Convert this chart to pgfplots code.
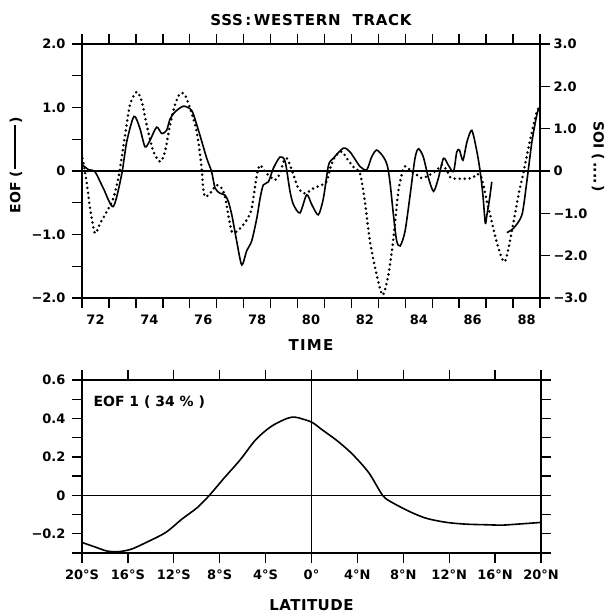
\documentclass[border=0pt]{standalone}
\usepackage{fontspec}
\setmainfont{DejaVu Sans}
\usepackage{pgfplots}
\pgfplotsset{compat=1.18}

\pgfplotsset{
  panel/.style={
    scale only axis,
    tick align=outside,
    axis line style={line width=1.5pt},
    every tick/.style={line width=1.4pt, black},
    major tick length=10pt,
    minor tick length=10pt,
    tick label style={font=\fontsize{13}{15}\selectfont\bfseries},
    xticklabel style={yshift=-3pt},
    yticklabel style={xshift=-3pt},
    /pgf/number format/assume math mode=true,
  },
  eofline/.style={black, line width=1.6pt, smooth, tension=0.45},
  soiline/.style={black, line width=2.8pt, line cap=round,
    dash pattern=on 0pt off 5pt, smooth, tension=0.45},
}

\begin{document}
\begin{tikzpicture}
\useasboundingbox (-82pt,-60pt) rectangle (530pt,553pt);

% ---- top panel, EOF (left axis)
\begin{axis}[panel, at={(0pt,255pt)}, width=458pt, height=254pt,
  xmin=72, xmax=89, ymin=-2, ymax=2,
  xtick={72,74,...,88}, minor xtick={73,75,...,89},
  xticklabels={72,74,76,78,80,82,84,86,88},
  xticklabel style={xshift=13.5pt},
  ytick={-2,-1.5,-1,-0.5,0,0.5,1,1.5,2},
  yticklabels={−2.0,,−1.0,,0,,1.0,,2.0},
  ytick pos=left,
  title={SSS\,:\,WESTERN\ \ TRACK},
  title style={font=\fontsize{15}{17}\selectfont\bfseries\addfontfeatures{LetterSpace=5}, yshift=9pt},
  xlabel={TIME},
  xlabel style={at={(axis description cs:0.5,0)}, anchor=center, yshift=-47pt,
    font=\fontsize{15}{17}\selectfont\bfseries\addfontfeatures{LetterSpace=8}},
]
\addplot[black, line width=1.1pt] coordinates {(72,0) (89,0)};
\addplot[eofline] coordinates {
(72.0,0.10) (72.25,0.02) (72.48,-0.01) (72.79,-0.27) (73.16,-0.56)
(73.47,-0.06) (73.66,0.46) (73.93,0.86) (74.15,0.67) (74.34,0.38)
(74.52,0.48) (74.77,0.69) (74.96,0.59) (75.14,0.64) (75.27,0.82)
(75.45,0.93) (75.76,1.02) (76.01,0.98) (76.13,0.90) (76.38,0.56)
(76.63,0.20) (76.81,-0.01) (76.94,-0.27) (77.12,-0.35) (77.31,-0.38)
(77.43,-0.48) (77.56,-0.69) (77.74,-1.10) (77.93,-1.48) (78.11,-1.26)
(78.30,-1.10) (78.49,-0.74) (78.61,-0.43) (78.73,-0.22) (78.92,-0.17)
(79.10,0.04) (79.35,0.22) (79.54,0.15) (79.72,-0.32) (79.85,-0.53)
(80.09,-0.66) (80.34,-0.375) (80.53,-0.53) (80.77,-0.69) (80.96,-0.43)
(81.15,0.09) (81.33,0.20) (81.70,0.36) (81.95,0.30) (82.32,0.07)
(82.57,0.02) (82.75,0.22) (82.94,0.33) (83.19,0.22) (83.33,0.09)
(83.43,-0.17) (83.56,-0.69) (83.68,-1.10) (83.81,-1.18) (83.99,-0.95)
(84.18,-0.375) (84.36,0.20) (84.49,0.35) (84.67,0.22) (84.86,-0.11)
(85.05,-0.32) (85.23,-0.11) (85.42,0.20) (85.60,0.09) (85.79,-0.01)
(85.91,0.30) (86.01,0.33) (86.14,0.17) (86.29,0.46) (86.47,0.64)
(86.66,0.30) (86.78,-0.01) (86.88,-0.375) (86.97,-0.82) (87.03,-0.69)
(87.13,-0.43) (87.21,-0.17)
};
\addplot[eofline] coordinates {
(87.77,-0.97) (88.02,-0.90) (88.33,-0.69) (88.51,-0.17) (88.70,0.46)
(88.89,0.90) (88.99,1.00)
};
\end{axis}

% ---- top panel, SOI (right axis)
\begin{axis}[panel, at={(0pt,255pt)}, width=458pt, height=254pt,
  xmin=72, xmax=89, ymin=-3, ymax=3,
  axis x line=none, axis y line*=right,
  ytick={-3,-2,-1,0,1,2,3},
  yticklabels={−3.0,−2.0,−1.0,0,1.0,2.0,3.0},
  yticklabel style={xshift=3pt},
]
\addplot[soiline] coordinates {
(72.02,0.30) (72.17,-0.25) (72.30,-0.88) (72.48,-1.47) (72.67,-1.24)
(72.92,-0.96) (73.16,-0.65) (73.35,-0.17) (73.47,0.30) (73.60,0.85)
(73.78,1.56) (74.03,1.87) (74.22,1.64) (74.40,1.09) (74.65,0.46)
(74.90,0.22) (75.08,0.46) (75.27,1.09) (75.45,1.56) (75.64,1.83)
(75.82,1.80) (76.01,1.48) (76.20,1.09) (76.32,0.69) (76.44,0.06)
(76.50,-0.41) (76.57,-0.61) (76.75,-0.53) (77.00,-0.33) (77.19,-0.41)
(77.31,-0.61) (77.43,-1.04) (77.56,-1.43) (77.74,-1.43) (77.93,-1.31)
(78.11,-1.16) (78.30,-0.88) (78.49,-0.09) (78.61,0.14) (78.79,-0.02)
(78.98,-0.13) (79.17,-0.21) (79.35,-0.06) (79.48,0.22) (79.60,0.30)
(79.72,0.14) (79.85,-0.09) (80.03,-0.41) (80.28,-0.53) (80.59,-0.41)
(80.90,-0.33) (81.08,-0.25) (81.21,0.06) (81.39,0.34) (81.64,0.46)
(81.83,0.30) (82.07,0.10) (82.32,-0.06) (82.50,-0.72) (82.69,-1.67)
(82.94,-2.46) (83.16,-2.93) (83.37,-2.46) (83.56,-1.59) (83.74,-0.49)
(83.93,0.06) (84.05,0.10) (84.24,-0.02) (84.42,-0.09) (84.61,-0.17)
(84.79,-0.13) (84.98,-0.06) (85.17,0.02) (85.35,0.14) (85.54,0.02)
(85.72,-0.17) (86.47,-0.17) (86.59,-0.09) (86.78,-0.09) (86.90,-0.33)
(87.03,-0.72) (87.21,-1.20) (87.39,-1.67) (87.58,-2.06) (87.70,-2.14)
(87.83,-1.83) (88.02,-1.20) (88.20,-0.57) (88.39,-0.02) (88.57,0.54)
(88.76,1.09) (88.90,1.44) (89.00,1.52)
};
\end{axis}

% ---- bottom panel
\begin{axis}[panel, at={(0pt,0pt)}, width=459pt, height=173pt,
  xmin=-20, xmax=20, ymin=-0.3, ymax=0.6,
  xtick={-20,-16,...,20},
  xticklabels={20°S,16°S,12°S,8°S,4°S,0°,4°N,8°N,12°N,16°N,20°N},
  ytick={-0.3,-0.2,-0.1,0,0.1,0.2,0.3,0.4,0.5,0.6},
  yticklabels={,−0.2,,0,,0.2,,0.4,,0.6},
  xlabel={LATITUDE},
  xlabel style={at={(axis description cs:0.5,0)}, anchor=center, yshift=-52pt,
    font=\fontsize{15}{17}\selectfont\bfseries\addfontfeatures{LetterSpace=3}},
]
\addplot[black, line width=1.1pt] coordinates {(-20,0) (20,0)};
\addplot[black, line width=1.1pt] coordinates {(0,-0.3) (0,0.6)};
\addplot[black, line width=1.6pt, smooth, tension=0.5] coordinates {
(-20,-0.245) (-18.8,-0.27) (-17.8,-0.29) (-16.8,-0.293) (-15.7,-0.28)
(-14.4,-0.245) (-12.7,-0.193) (-11.3,-0.124) (-9.96,-0.064) (-8.9,0)
(-7.6,0.091) (-6.2,0.186) (-4.85,0.29) (-3.5,0.359) (-2.14,0.40)
(-1.46,0.407) (-0.77,0.397) (0.07,0.379) (0.93,0.341) (2.3,0.281)
(3.6,0.212) (5.0,0.117) (6.2,0) (7.05,-0.038) (8.75,-0.09)
(10.1,-0.121) (11.8,-0.141) (13.5,-0.15) (15.2,-0.153) (16.6,-0.155)
(17.9,-0.15) (20.0,-0.141)
};
\node[anchor=west, font=\fontsize{14}{16}\selectfont\bfseries] at (axis cs:-19.3,0.485) {EOF 1 ( 34 \% )};
\end{axis}

% side labels
\node[rotate=90, font=\fontsize{14}{16}\selectfont\bfseries] at (-66pt,388pt)
  {EOF (\,\rule[0.32em]{3.1em}{1.5pt}\,)};
\node[rotate=-90, font=\fontsize{14}{16}\selectfont\bfseries] at (516pt,396pt)
  {SOI (\,....\,)};
\end{tikzpicture}
\end{document}
